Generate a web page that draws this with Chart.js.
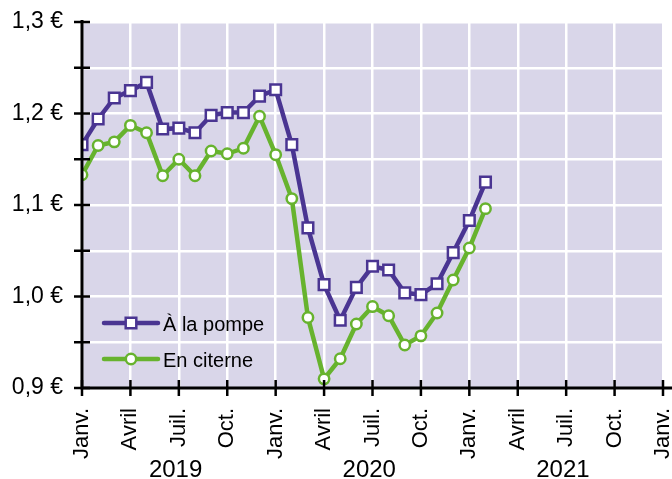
<!DOCTYPE html>
<html>
<head>
<meta charset="utf-8">
<script src="https://cdn.jsdelivr.net/npm/chart.js@4"></script>
<style>
  html, body { margin: 0; padding: 0; background: #fff; }
  #wrap { width: 672px; height: 479px; }
</style>
</head>
<body>
<div id="wrap"><canvas id="chart" width="672" height="479"></canvas></div>
<script>
// Prix du fioul (€/litre), mensuel, janv. 2019 -> févr. 2021
const monthIndex = [0,1,2,3,4,5,6,7,8,9,10,11,12,13,14,15,16,17,18,19,20,21,22,23,24,25];
const pompe = [1.166,1.194,1.217,1.225,1.234,1.183,1.184,1.179,1.198,1.201,1.201,1.219,
               1.226,1.166,1.075,1.013,0.974,1.010,1.033,1.029,1.004,1.002,1.014,1.048,
               1.083,1.125];
const citerne = [1.133,1.165,1.169,1.187,1.179,1.132,1.150,1.132,1.159,1.156,1.162,1.197,
                 1.155,1.107,0.977,0.910,0.932,0.970,0.989,0.979,0.947,0.957,0.982,1.018,
                 1.053,1.096];
const monthLabels = ['Janv.', 'Avril', 'Juil.', 'Oct.'];
const years = ['2019', '2020', '2021'];
const seriesNames = ['À la pompe', 'En citerne'];

const PURPLE = '#4a3592';
const GREEN = '#67b32e';
const BG = '#d9d6e9';
const FONT = '"Liberation Sans", Arial, sans-serif';

// fond, ticks croisés, axes noirs, années et légende
const decor = {
    id: 'decor',
    beforeDraw(chart) {
        const { ctx, chartArea: a } = chart;
        ctx.save();
        ctx.fillStyle = BG;
        ctx.fillRect(a.left, a.top, a.right - a.left, a.bottom - a.top);
        ctx.restore();
    },
    afterDatasetsDraw(chart) {
        const { ctx, chartArea: a, scales } = chart;
        const x = scales.x, y = scales.y;
        ctx.save();
        ctx.strokeStyle = '#000';
        ctx.lineWidth = 3;
        ctx.beginPath();
        ctx.moveTo(a.left, a.top - 2);
        ctx.lineTo(a.left, a.bottom);
        ctx.lineTo(chart.width, a.bottom);
        ctx.stroke();
        ctx.lineWidth = 2.5;
        y.ticks.forEach(t => {
            const py = y.getPixelForValue(t.value);
            ctx.beginPath();
            ctx.moveTo(a.left - 8, py);
            ctx.lineTo(a.left + 8, py);
            ctx.stroke();
        });
        x.ticks.forEach(t => {
            const px = x.getPixelForValue(t.value);
            ctx.beginPath();
            ctx.moveTo(px, a.bottom - 8);
            ctx.lineTo(px, a.bottom + 8);
            ctx.stroke();
        });
        // années
        ctx.fillStyle = '#000';
        ctx.font = '24px ' + FONT;
        ctx.textAlign = 'center';
        ctx.textBaseline = 'alphabetic';
        years.forEach((yr, i) => {
            ctx.fillText(yr, x.getPixelForValue(i * 12 + 5.8), 477);
        });
        // légende
        const items = [
            { label: seriesNames[0], color: PURPLE, style: 'rect', radius: 7.5 },
            { label: seriesNames[1], color: GREEN, style: 'circle', radius: 5.2 }
        ];
        ctx.font = '20px ' + FONT;
        ctx.textAlign = 'left';
        ctx.textBaseline = 'middle';
        items.forEach((it, i) => {
            const ly = 323 + i * 36;
            ctx.strokeStyle = it.color;
            ctx.lineWidth = 4.5;
            ctx.lineCap = 'round';
            ctx.beginPath();
            ctx.moveTo(104, ly);
            ctx.lineTo(158, ly);
            ctx.stroke();
            ctx.lineCap = 'butt';
            ctx.fillStyle = '#fff';
            ctx.lineWidth = 2.5;
            Chart.helpers.drawPoint(ctx, { pointStyle: it.style, radius: it.radius, borderWidth: 2.5 }, 131, ly);
            ctx.fillStyle = '#000';
            ctx.fillText(it.label, 163, ly + 2);
        });
        ctx.restore();
    }
};

new Chart(document.getElementById('chart'), {
    type: 'line',
    data: {
        labels: monthIndex,
        datasets: [
            {
                label: seriesNames[0],
                data: monthIndex.map((m, i) => ({ x: m, y: pompe[i] })),
                borderColor: PURPLE,
                borderWidth: 4.5,
                pointStyle: 'rect',
                pointRadius: 7.5,
                pointBorderWidth: 2.5,
                pointBackgroundColor: '#fff',
                pointBorderColor: PURPLE,
                tension: 0
            },
            {
                label: seriesNames[1],
                data: monthIndex.map((m, i) => ({ x: m, y: citerne[i] })),
                borderColor: GREEN,
                borderWidth: 4.5,
                pointStyle: 'circle',
                pointRadius: 5.2,
                pointBorderWidth: 2.5,
                pointBackgroundColor: '#fff',
                pointBorderColor: GREEN,
                tension: 0
            }
        ]
    },
    options: {
        responsive: false,
        animation: false,
        layout: { autoPadding: false, padding: { top: 22, right: 9, left: 0, bottom: 0 } },
        plugins: { legend: { display: false }, tooltip: { enabled: false } },
        scales: {
            x: {
                type: 'linear',
                min: 0,
                max: 36,
                border: { display: false },
                grid: { color: '#fff', lineWidth: 2.5, drawTicks: false },
                ticks: {
                    stepSize: 3,
                    autoSkip: false,
                    minRotation: 90,
                    maxRotation: 90,
                    padding: 20,
                    color: '#000',
                    font: { family: FONT, size: 22 },
                    callback: v => monthLabels[(v / 3) % 4]
                },
                afterFit: s => {
                    s.height = 91;
                    s.paddingLeft = 0; s.paddingRight = 0;
                }
            },
            y: {
                min: 0.9,
                max: 1.3,
                border: { display: false },
                grid: { color: '#fff', lineWidth: 2.5, drawTicks: false },
                ticks: {
                    stepSize: 0.05,
                    padding: 19,
                    color: '#000',
                    font: { family: FONT, size: 23 },
                    callback: v => {
                        const c = Math.round(v * 100);
                        return c % 10 === 0 ? (c / 100).toFixed(1).replace('.', ',') + ' €' : '';
                    }
                },
                afterFit: s => {
                    s.width = 82;
                    s.paddingTop = 0; s.paddingBottom = 0;
                }
            }
        }
    },
    plugins: [decor]
});
</script>
</body>
</html>
